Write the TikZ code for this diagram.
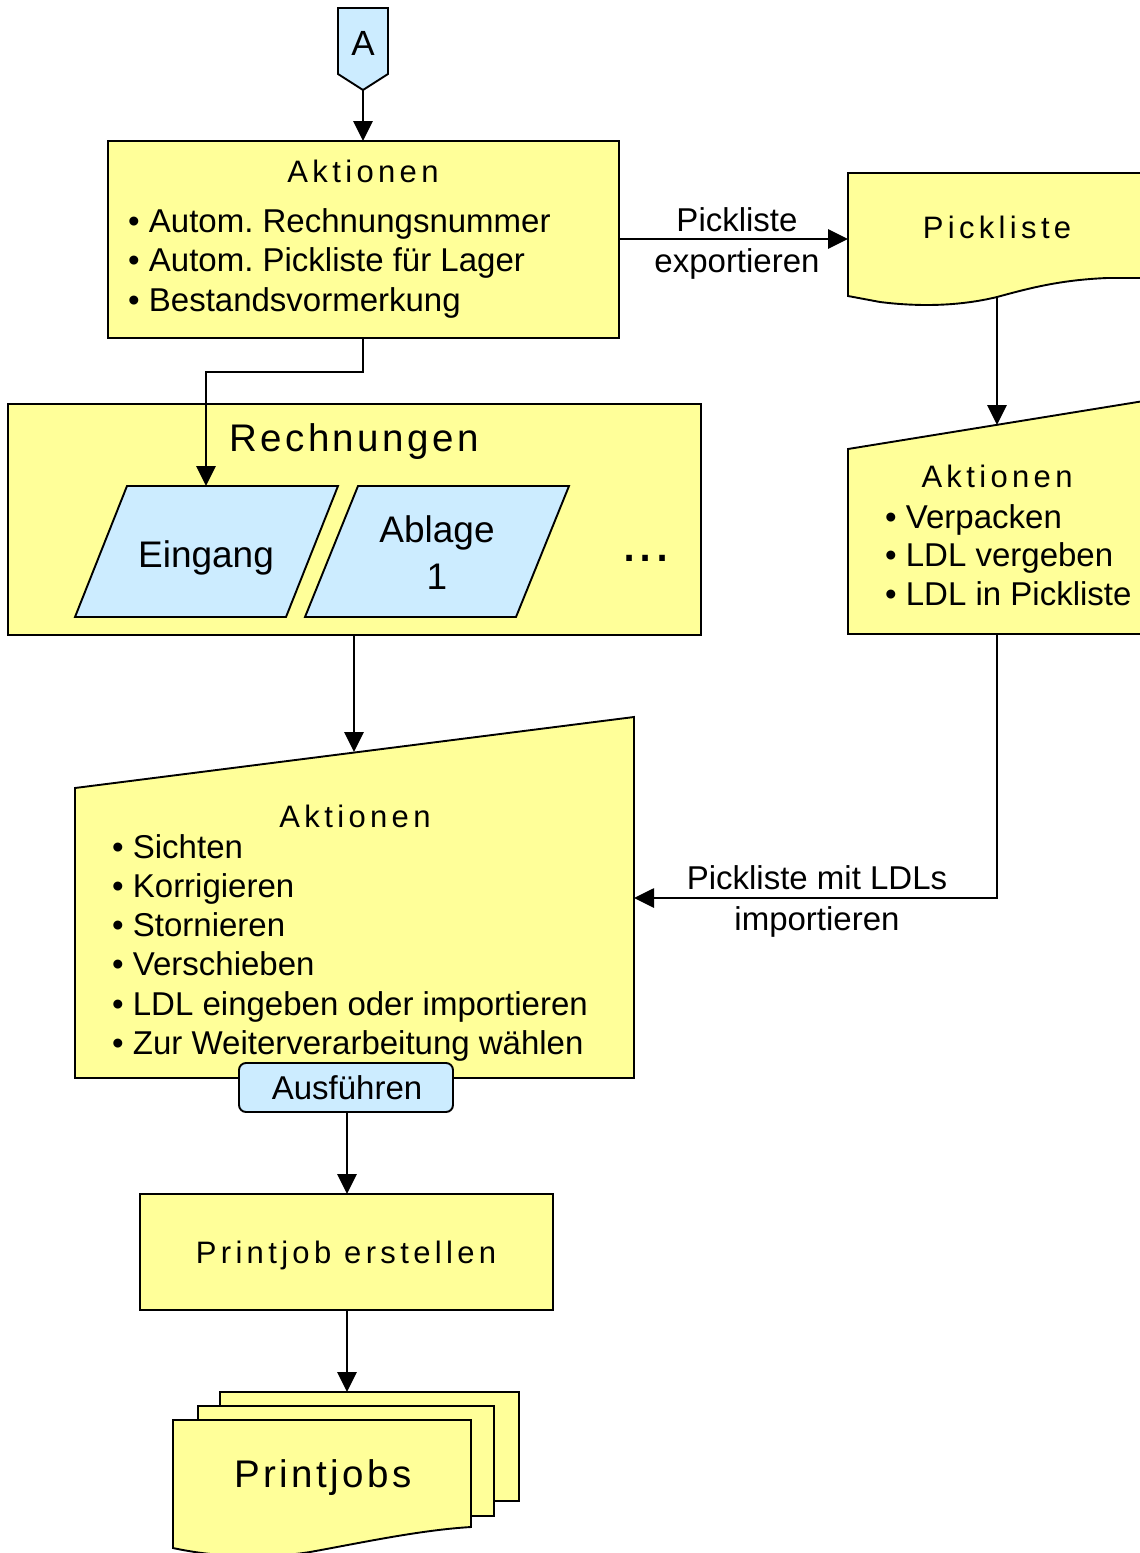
\documentclass[tikz,border=0pt]{standalone}
\usepackage{fontspec}
\setmainfont{Liberation Sans}
\newfontfamily\hfa[LetterSpace=14]{Liberation Sans}
\newfontfamily\hfb[LetterSpace=9]{Liberation Sans}
\usetikzlibrary{arrows.meta}
\definecolor{yel}{HTML}{FFFF99}
\definecolor{blu}{HTML}{CCECFF}
\frenchspacing
\tikzset{
 shp/.style={draw=black, line width=1.9pt, line join=miter},
 yshape/.style={shp, fill=yel},
 bshape/.style={shp, fill=blu},
 conn/.style={line width=2.8pt, -{Triangle[length=20pt,width=19pt]}},
 body/.style={font=\fontsize{33}{39.5}\selectfont, inner sep=0pt, anchor=base west},
 lbl/.style={font=\fontsize{33}{39.5}\selectfont, inner sep=0pt, anchor=base},
 head/.style={font=\hfa\fontsize{31}{36}\selectfont, inner sep=0pt, anchor=base},
 bighead/.style={font=\hfb\fontsize{38.5}{44}\selectfont, inner sep=0pt, anchor=base},
}
\begin{document}
\begin{tikzpicture}[x=1pt,y=-1pt]
\useasboundingbox (0,0) rectangle (1140,1553);
\clip (0,0) rectangle (1140,1553);
\fill[white] (0,0) rectangle (1140,1553);

% off-page connector A
\draw[bshape] (338,8) -- (388,8) -- (388,74) -- (363,90) -- (338,74) -- cycle;
\node[bighead, font=\hfb\fontsize{35}{40}\selectfont] (A) at (363,55) {A};
\coordinate (Abot) at (363,90);

% box 1
\draw[yshape] (108,141) rectangle (619,338);
\coordinate (b1top) at (363,141);
\coordinate (b1right) at (619,239);
\coordinate (b1bot) at (363,338);
\node[head] (b1h) at (363,182) {Aktionen};
\foreach \t [count=\i] in {• Autom. Rechnungsnummer, • Autom. Pickliste für Lager, • Bestandsvormerkung}
  \node[body] (b1l\i) at (128,{232+(\i-1)*39.5}) {\t};

% Pickliste document
\draw[yshape] (848,173) -- (1150,173) -- (1150,278) -- (1107,278)
  .. controls (1060,280) and (1030,288) .. (997,297)
  .. controls (960,306) and (920,307) .. (880,302) -- (848,296) -- cycle;
\node[head] (pl) at (997,238) {Pickliste};
\coordinate (plleft) at (848,239);
\coordinate (plbot) at (997,297);

% right manual input
\draw[yshape] (848,449) -- (1150,400) -- (1150,634) -- (848,634) -- cycle;
\coordinate (rtop) at (997,425);
\coordinate (rbot) at (997,634);
\node[head] (rh) at (997,487) {Aktionen};
\foreach \t [count=\i] in {• Verpacken, • LDL vergeben, • LDL in Pickliste}
  \node[body] (rl\i) at (885,{528+(\i-1)*38.5}) {\t};

% Rechnungen
\draw[yshape] (8,404) rectangle (701,635);
\node[bighead] (rech) at (354,451) {Rechnungen};
\coordinate (rechbot) at (354,635);
\draw[bshape] (75,617) -- (286,617) -- (338,486) -- (127,486) -- cycle;
\coordinate (eintop) at (206,486);
\node[lbl, font=\fontsize{37}{42}\selectfont] (ein) at (206,567) {Eingang};
\draw[bshape] (305,617) -- (516,617) -- (569,486) -- (358,486) -- cycle;
\node[lbl, font=\fontsize{37}{42}\selectfont] (abl1) at (437,542) {Ablage};
\node[lbl, font=\fontsize{37}{42}\selectfont] (abl2) at (437,589) {1};
\node[lbl, font=\fontsize{58}{60}\selectfont] (dots) at (646,561) {...};

% middle manual input
\draw[yshape] (75,788) -- (634,717) -- (634,1078) -- (75,1078) -- cycle;
\coordinate (mtop) at (354,752);
\coordinate (mright) at (634,898);
\node[head] (mh) at (355,827) {Aktionen};
\foreach \t [count=\i] in {• Sichten, • Korrigieren, • Stornieren, • Verschieben, • LDL eingeben oder importieren, • Zur Weiterverarbeitung wählen}
  \node[body] (ml\i) at (112,{858+(\i-1)*39.3}) {\t};

% Ausführen button
\draw[bshape, rounded corners=7pt] (239,1063) rectangle (453,1112);
\node[lbl] (aus) at (347,1099) {Ausführen};
\coordinate (ausbot) at (347,1112);

% Printjob erstellen
\draw[yshape] (140,1194) rectangle (553,1310);
\coordinate (pjtop) at (347,1194);
\coordinate (pjbot) at (347,1310);
\node[head] (pj) at (346,1263) {Printjob erstellen};

% Printjobs multi-document
\draw[yshape] (220,1392) rectangle (519,1501);
\draw[yshape] (198,1406) rectangle (494,1516);
\draw[yshape] (173,1420) -- (471,1420) -- (471,1527)
  .. controls (420,1530) and (360,1543) .. (310,1552)
  .. controls (260,1560) and (210,1556) .. (173,1548) -- cycle;
\coordinate (pjstop) at (347,1392);
\node[bighead] (pjs) at (323,1487) {Printjobs};

% connectors
\draw[conn] (Abot) -- (b1top);
\draw[conn] (b1right) -- (plleft);
\node[lbl] (e1a) at (737,231) {Pickliste};
\node[lbl] (e1b) at (737,272) {exportieren};
\draw[conn] (plbot) -- (rtop);
\draw[conn] (b1bot) -- (363,372) -- (206,372) -- (eintop);
\draw[conn] (rechbot) -- (mtop);
\draw[conn] (rbot) -- (997,898) -- (mright);
\node[lbl] (e2a) at (817,889) {Pickliste mit LDLs};
\node[lbl] (e2b) at (817,930) {importieren};
\draw[conn] (ausbot) -- (pjtop);
\draw[conn] (pjbot) -- (pjstop);
\end{tikzpicture}
\end{document}
